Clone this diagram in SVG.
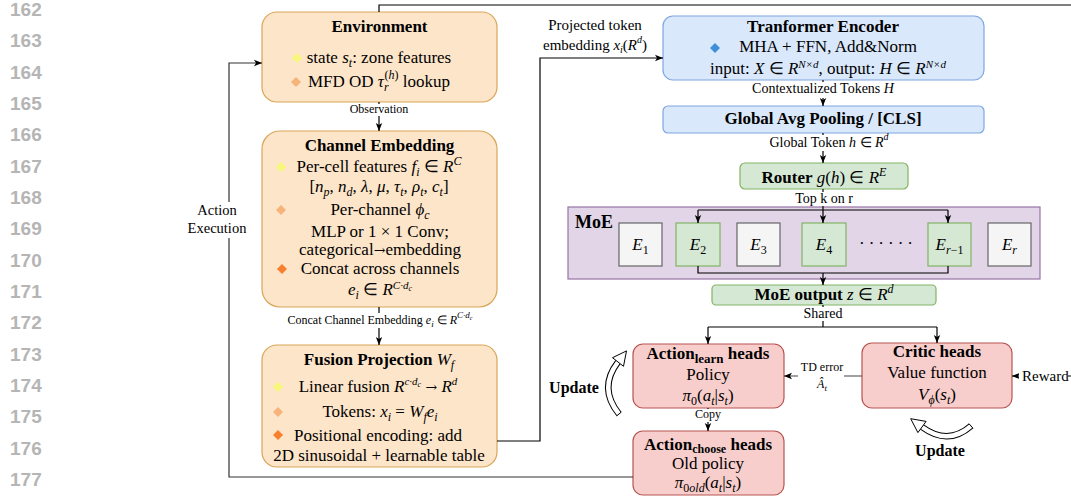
<svg xmlns="http://www.w3.org/2000/svg" width="1071" height="502" viewBox="0 0 1071 502">
<defs>
<style>
text{font-family:"Liberation Serif","Times New Roman",serif;fill:#000}
.t{font-size:17px;text-anchor:middle}
.b{font-weight:bold}
.i{font-style:italic}
.nb{font-weight:normal}
.s12{font-size:12px;text-anchor:middle}
.s14{font-size:14px;text-anchor:middle}
.ln{font-family:"Liberation Sans",Arial,sans-serif;font-size:19px;font-weight:bold;fill:#b5b5b5}
.org{fill:#fde5c9;stroke:#d9a556;stroke-width:1.2}
.blu{fill:#dae8fc;stroke:#7ea6e0;stroke-width:1.2}
.grn{fill:#d5e8d4;stroke:#82b366;stroke-width:1.2}
.red{fill:#f8cecc;stroke:#b85450;stroke-width:1.2}
.pur{fill:#e1d5e7;stroke:#9673a6;stroke-width:1.2}
.gry{fill:#f5f5f5;stroke:#666;stroke-width:1.2}
.c{fill:none;stroke:#000;stroke-width:1.2}
.ca{fill:none;stroke:#000;stroke-width:1.2;marker-end:url(#ah)}
.bg{fill:#fff}
.dy{fill:#f7f77a}
.dl{fill:#f8b37a}
.do{fill:#f7802f}
.db{fill:#3d8fdc}
</style>
<marker id="ah" viewBox="0 0 10 10" refX="10" refY="5" markerWidth="8" markerHeight="8" markerUnits="userSpaceOnUse" orient="auto"><path d="M0,1 L10,5 L0,9 L2.5,5 Z" fill="#000"/></marker>
</defs>

<g id="line-numbers">
<text class="ln" x="10" y="16">162</text>
<text class="ln" x="10" y="47.3">163</text>
<text class="ln" x="10" y="78.7">164</text>
<text class="ln" x="10" y="110">165</text>
<text class="ln" x="10" y="141.3">166</text>
<text class="ln" x="10" y="172.7">167</text>
<text class="ln" x="10" y="204">168</text>
<text class="ln" x="10" y="235.3">169</text>
<text class="ln" x="10" y="266.7">170</text>
<text class="ln" x="10" y="298">171</text>
<text class="ln" x="10" y="329.3">172</text>
<text class="ln" x="10" y="360.7">173</text>
<text class="ln" x="10" y="392">174</text>
<text class="ln" x="10" y="423.3">175</text>
<text class="ln" x="10" y="454.7">176</text>
<text class="ln" x="10" y="486">177</text>
</g>

<g id="environment">
<rect class="org" x="262" y="12" width="235" height="90" rx="15"/>
<text class="t b" x="379.5" y="32">Environment</text>
<path class="dy" d="M297 53 L302 58 L297 63 L292 58 Z"/>
<text class="t" x="379" y="63">state <tspan class="i">s</tspan><tspan class="i" font-size="12" baseline-shift="-4">t</tspan>: zone features</text>
<path class="dl" d="M296 77 L301 82 L296 87 L291 82 Z"/>
<text class="t" x="379" y="87">MFD OD <tspan class="i">τ</tspan><tspan class="i" font-size="12" baseline-shift="-4">r</tspan><tspan font-size="12" baseline-shift="8" dx="-4">(</tspan><tspan class="i" font-size="12" baseline-shift="8">h</tspan><tspan font-size="12" baseline-shift="8">)</tspan> lookup</text>
</g>

<g id="channel-embedding">
<rect class="org" x="262" y="131" width="235" height="176" rx="18"/>
<text class="t b" x="379.5" y="151">Channel Embedding</text>
<path class="dy" d="M281 162 L286 167 L281 172 L276 167 Z"/>
<text class="t" x="379" y="172">Per-cell features <tspan class="i">f</tspan><tspan class="i" font-size="12" baseline-shift="-4">i</tspan> ∈ <tspan class="i">R</tspan><tspan class="i" font-size="12" baseline-shift="7">C</tspan></text>
<text class="t" x="379" y="192">[<tspan class="i">n</tspan><tspan class="i" font-size="12" baseline-shift="-4">p</tspan>, <tspan class="i">n</tspan><tspan class="i" font-size="12" baseline-shift="-4">d</tspan>, <tspan class="i">λ</tspan>, <tspan class="i">μ</tspan>, <tspan class="i">τ</tspan><tspan class="i" font-size="12" baseline-shift="-4">t</tspan>, <tspan class="i">ρ</tspan><tspan class="i" font-size="12" baseline-shift="-4">t</tspan>, <tspan class="i">c</tspan><tspan class="i" font-size="12" baseline-shift="-4">t</tspan>]</text>
<path class="dl" d="M281 205 L286 210 L281 215 L276 210 Z"/>
<text class="t" x="380" y="215">Per-channel <tspan class="i">ϕ</tspan><tspan class="i" font-size="12" baseline-shift="-4">c</tspan></text>
<text class="t" x="380" y="237">MLP or 1 × 1 Conv;</text>
<text class="t" x="380" y="255">categorical<tspan font-family="DejaVu Serif, serif" font-size="14">→</tspan>embedding</text>
<path class="do" d="M282 264 L287 269 L282 274 L277 269 Z"/>
<text class="t" x="380" y="274">Concat across channels</text>
<text class="t" x="380" y="295"><tspan class="i">e</tspan><tspan class="i" font-size="12" baseline-shift="-4">i</tspan> ∈ <tspan class="i">R</tspan><tspan class="i" font-size="11" baseline-shift="6">C·d</tspan><tspan class="i" font-size="8" baseline-shift="4">c</tspan></text>
</g>

<g id="fusion-projection">
<rect class="org" x="262" y="345" width="235" height="122" rx="15"/>
<text class="t b" x="379" y="365">Fusion Projection <tspan class="i nb">W</tspan><tspan class="i nb" font-size="12" baseline-shift="-4">f</tspan></text>
<path class="dy" d="M278 382 L283 387 L278 392 L273 387 Z"/>
<text class="t" x="378" y="392">Linear fusion <tspan class="i">R</tspan><tspan class="i" font-size="11" baseline-shift="7">c·d</tspan><tspan class="i" font-size="8" baseline-shift="5">c</tspan> <tspan font-family="DejaVu Serif, serif" font-size="14">→</tspan> <tspan class="i">R</tspan><tspan class="i" font-size="11" baseline-shift="7">d</tspan></text>
<path class="dl" d="M278 407 L283 412 L278 417 L273 412 Z"/>
<text class="t" x="380" y="417">Tokens: <tspan class="i">x</tspan><tspan class="i" font-size="12" baseline-shift="-4">i</tspan> = <tspan class="i">W</tspan><tspan class="i" font-size="12" baseline-shift="-4">f</tspan><tspan class="i">e</tspan><tspan class="i" font-size="12" baseline-shift="-4">i</tspan></text>
<path class="do" d="M278 430 L283 435 L278 440 L273 435 Z"/>
<text class="t" x="378" y="441">Positional encoding: add</text>
<text class="t" x="379" y="461">2D sinusoidal + learnable table</text>
</g>

<g id="transformer-encoder">
<rect class="blu" x="663" y="16" width="321" height="64" rx="10"/>
<text class="t b" x="823" y="32">Tranformer Encoder</text>
<path class="db" d="M715 43 L720 48 L715 53 L710 48 Z"/>
<text class="t" x="828" y="52">MHA + FFN, Add&amp;Norm</text>
<text class="t" x="828" y="74">input: <tspan class="i">X</tspan> ∈ <tspan class="i">R</tspan><tspan class="i" font-size="11" baseline-shift="6">N×d</tspan>, output: <tspan class="i">H</tspan> ∈ <tspan class="i">R</tspan><tspan class="i" font-size="11" baseline-shift="6">N×d</tspan></text>
</g>

<g id="global-pooling">
<rect class="blu" x="663" y="106" width="321" height="27" rx="5"/>
<text class="t b" x="823" y="124">Global Avg Pooling / [CLS]</text>
</g>

<g id="router">
<rect class="grn" x="740" y="163" width="168" height="26" rx="5"/>
<text class="t" x="824" y="183"><tspan class="b">Router</tspan> <tspan class="i">g</tspan>(<tspan class="i">h</tspan>) ∈ <tspan class="i">R</tspan><tspan class="i" font-size="12" baseline-shift="7">E</tspan></text>
</g>

<g id="moe">
<rect class="pur" x="568" y="207" width="472" height="72"/>
<text x="575" y="228" font-size="18" font-weight="bold">MoE</text>
<g id="expert-1"><rect class="gry" x="619" y="223" width="43" height="43"/><text class="t" x="640.5" y="250"><tspan class="i">E</tspan><tspan font-size="12" baseline-shift="-4">1</tspan></text></g>
<g id="expert-2"><rect class="grn" x="676" y="223" width="44" height="43"/><text class="t" x="698" y="250"><tspan class="i">E</tspan><tspan font-size="12" baseline-shift="-4">2</tspan></text></g>
<g id="expert-3"><rect class="gry" x="737" y="223" width="43" height="43"/><text class="t" x="758.5" y="250"><tspan class="i">E</tspan><tspan font-size="12" baseline-shift="-4">3</tspan></text></g>
<g id="expert-4"><rect class="grn" x="802" y="223" width="44" height="43"/><text class="t" x="824" y="250"><tspan class="i">E</tspan><tspan font-size="12" baseline-shift="-4">4</tspan></text></g>
<text class="t" x="888" y="249" letter-spacing="4">······</text>
<g id="expert-r-1"><rect class="grn" x="928" y="223" width="43" height="43"/><text class="t" x="949.5" y="250"><tspan class="i">E</tspan><tspan class="i" font-size="12" baseline-shift="-4">r</tspan><tspan font-size="12" baseline-shift="-4">−1</tspan></text></g>
<g id="expert-r"><rect class="gry" x="988" y="223" width="43" height="43"/><text class="t" x="1009.5" y="250"><tspan class="i">E</tspan><tspan class="i" font-size="12" baseline-shift="-4">r</tspan></text></g>
</g>

<g id="moe-output">
<rect class="grn" x="712" y="285" width="224" height="20" rx="4"/>
<text class="t" x="824" y="300"><tspan class="b">MoE output</tspan> <tspan class="i">z</tspan> ∈ <tspan class="i">R</tspan><tspan class="i" font-size="12" baseline-shift="7">d</tspan></text>
</g>

<g id="action-learn-heads">
<rect class="red" x="633" y="344" width="151" height="64" rx="10"/>
<text class="t" x="708" y="359"><tspan class="b">Action</tspan><tspan class="b" font-size="13" baseline-shift="-4">learn</tspan><tspan class="b"> heads</tspan></text>
<text class="t" x="708" y="380">Policy</text>
<text class="t" x="708" y="401"><tspan class="i">π</tspan><tspan font-size="12" baseline-shift="-4">0</tspan>(<tspan class="i">a</tspan><tspan class="i" font-size="12" baseline-shift="-4">t</tspan>|<tspan class="i">s</tspan><tspan class="i" font-size="12" baseline-shift="-4">t</tspan>)</text>
</g>

<g id="action-choose-heads">
<rect class="red" x="633" y="431" width="151" height="64" rx="10"/>
<text class="t" x="708" y="450"><tspan class="b">Action</tspan><tspan class="b" font-size="12" baseline-shift="-3">choose</tspan><tspan class="b"> heads</tspan></text>
<text class="t" x="708" y="469">Old policy</text>
<text class="t" x="708" y="488"><tspan class="i">π</tspan><tspan font-size="12" baseline-shift="-4">0</tspan><tspan class="i" font-size="12" baseline-shift="-4">old</tspan>(<tspan class="i">a</tspan><tspan class="i" font-size="12" baseline-shift="-4">t</tspan>|<tspan class="i">s</tspan><tspan class="i" font-size="12" baseline-shift="-4">t</tspan>)</text>
</g>

<g id="critic-heads">
<rect class="red" x="862" y="343" width="150" height="65" rx="10"/>
<text class="t b" x="937" y="357">Critic heads</text>
<text class="t" x="937" y="378">Value function</text>
<text class="t" x="937" y="400"><tspan class="i">V</tspan><tspan class="i" font-size="12" baseline-shift="-4">ϕ</tspan>(<tspan class="i">s</tspan><tspan class="i" font-size="12" baseline-shift="-4">t</tspan>)</text>
</g>

<g id="connectors">
<path class="c" d="M379 12 V5 H1071"/>
<path class="ca" d="M379 102 V131"/>
<path class="ca" d="M379 307 V345"/>
<path class="ca" d="M497 441 H540 V58 H663"/>
<path class="ca" d="M823 80 V106"/>
<path class="ca" d="M823 133 V163"/>
<path class="ca" d="M823 189 V223"/>
<path class="c" d="M698 210 H948"/>
<path class="ca" d="M698 210 V223"/>
<path class="ca" d="M948 210 V223"/>
<path class="c" d="M698 266 V273 H948 V266"/>
<path class="ca" d="M823 273 V285"/>
<path class="c" d="M823 305 V327"/>
<path class="c" d="M708 327 H937"/>
<path class="ca" d="M708 327 V344"/>
<path class="ca" d="M937 327 V343"/>
<path class="ca" d="M862 376 H784" style="stroke:#444"/>
<path class="ca" d="M708 408 V431"/>
<path class="ca" d="M633 477 H229 V63 H262" style="stroke:#333"/>
<path class="ca" d="M1071 376 H1012"/>
</g>

<g id="labels">
<rect class="bg" x="350" y="104" width="58" height="12"/>
<text class="s12" x="379" y="113">Observation</text>
<rect class="bg" x="284" y="313" width="192" height="15"/>
<text class="s12" x="380" y="324">Concat Channel Embedding <tspan class="i">e</tspan><tspan class="i" font-size="9" baseline-shift="-3">i</tspan> ∈ <tspan class="i">R</tspan><tspan class="i" font-size="9" baseline-shift="6">C·d</tspan><tspan class="i" font-size="6" baseline-shift="4">c</tspan></text>
<text x="595" y="30" font-size="15" text-anchor="middle">Projected token</text>
<text x="595" y="50" font-size="15" text-anchor="middle">embedding <tspan class="i">x</tspan><tspan class="i" font-size="10" baseline-shift="-3">i</tspan>(<tspan class="i">R</tspan><tspan class="i" font-size="10" baseline-shift="7">d</tspan>)</text>
<rect class="bg" x="745" y="82" width="157" height="16"/>
<text class="s14" x="823" y="93">Contextualized Tokens <tspan class="i">H</tspan></text>
<rect class="bg" x="762" y="135" width="135" height="16"/>
<text class="s14" x="829" y="147">Global Token <tspan class="i">h</tspan> ∈ <tspan class="i">R</tspan><tspan class="i" font-size="10" baseline-shift="7">d</tspan></text>
<rect class="bg" x="795" y="192" width="57" height="14"/>
<text class="s14" x="824" y="203">Top k on r</text>
<rect class="bg" x="800" y="307" width="46" height="14"/>
<text class="s14" x="823" y="318">Shared</text>
<rect class="bg" x="694" y="409" width="28" height="13"/>
<text class="s12" x="708" y="418">Copy</text>
<rect class="bg" x="798" y="359" width="46" height="33"/>
<text class="s12" x="822" y="371">TD error</text>
<text class="s12" x="822" y="388"><tspan class="i">Â</tspan><tspan class="i" font-size="9" baseline-shift="-3">t</tspan></text>
<rect class="bg" x="185" y="202" width="66" height="36"/>
<text x="217" y="215" font-size="14.5" text-anchor="middle">Action</text>
<text x="217" y="233" font-size="14.5" text-anchor="middle">Execution</text>
<rect class="bg" x="1019" y="368" width="49" height="17"/>
<text x="1022" y="381" font-size="15">Reward</text>
</g>

<g id="update-arrows">
<path d="M619 414 Q598 388 618 362" fill="none" stroke="#000" stroke-width="6.5"/>
<path d="M619 414 Q598 388 618 362" fill="none" stroke="#fff" stroke-width="4.5"/>
<path d="M621.3 412.1 L616.7 415.9" stroke="#000" stroke-width="1"/>
<path d="M626.5 350.9 L623.5 366.3 L612.5 357.7 Z" fill="#fff" stroke="#000" stroke-width="1"/>
<text x="574" y="393" font-size="16" font-weight="bold" text-anchor="middle">Update</text>
<path d="M971 426 Q948 446 922 427" fill="none" stroke="#000" stroke-width="6.5"/>
<path d="M971 426 Q948 446 922 427" fill="none" stroke="#fff" stroke-width="4.5"/>
<path d="M973 428.3 L969 423.7" stroke="#000" stroke-width="1"/>
<path d="M910.7 418.7 L926.1 421.4 L917.9 432.6 Z" fill="#fff" stroke="#000" stroke-width="1"/>
<text x="940" y="456" font-size="16" font-weight="bold" text-anchor="middle">Update</text>
</g>
</svg>
